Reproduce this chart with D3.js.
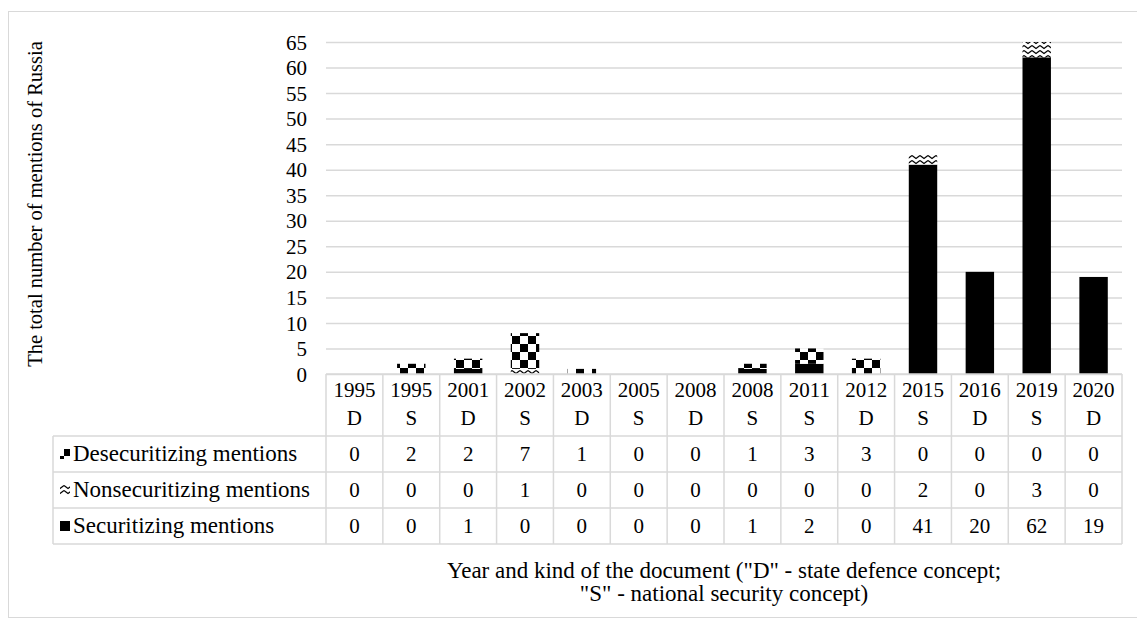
<!DOCTYPE html>
<html lang="en">
<head>
  <meta charset="utf-8"/>
  <title>Mentions of Russia</title>
  <script src="https://d3js.org/d3.v7.min.js"></script>
  <style>
    body { margin: 0; background: #fff; }
    svg { display: block; }
    svg text { font-family: "Liberation Serif", "DejaVu Serif", serif; fill: #000; }
  </style>
</head>
<body>
<svg id="chart" width="1137" height="625"></svg>
<script>
  // data
  const years = ["1995", "1995", "2001", "2002", "2003", "2005", "2008", "2008", "2011", "2012", "2015", "2016", "2019", "2020"];
  const kinds = ["D", "S", "D", "S", "D", "S", "D", "S", "S", "D", "S", "D", "S", "D"];
  const desecuritizing  = [0, 2, 2, 7, 1, 0, 0, 1, 3, 3, 0, 0, 0, 0];
  const nonsecuritizing = [0, 0, 0, 1, 0, 0, 0, 0, 0, 0, 2, 0, 3, 0];
  const securitizing    = [0, 0, 1, 0, 0, 0, 0, 1, 2, 0, 41, 20, 62, 19];
  const yTicks = d3.range(0, 66, 5);

  const seriesNames = ["Desecuritizing mentions", "Nonsecuritizing mentions", "Securitizing mentions"];
  const seriesValues = [desecuritizing, nonsecuritizing, securitizing];
  const seriesFill = ["url(#pDes)", "url(#pNon)", "#000"];

  const svg = d3.select("#chart");
  const grid = "#d9d9d9";
  const numSize = 21;   // digits
  const txtSize = 23;   // words

  const left = 326, right = 1122, baseY = 374, topY = 42;
  const tableLeft = 53, headerBottom = 436, rowH = 36;

  // patterns
  const defs = svg.append("defs");
  const pDes = defs.append("pattern").attr("id", "pDes")
    .attr("patternUnits", "userSpaceOnUse").attr("width", 16).attr("height", 16);
  pDes.append("rect").attr("width", 16).attr("height", 16).attr("fill", "#fff");
  pDes.append("rect").attr("x", 0).attr("y", 0).attr("width", 8).attr("height", 8).attr("fill", "#000");
  pDes.append("rect").attr("x", 8).attr("y", 8).attr("width", 8).attr("height", 8).attr("fill", "#000");

  const pNon = defs.append("pattern").attr("id", "pNon")
    .attr("patternUnits", "userSpaceOnUse").attr("width", 8).attr("height", 5);
  pNon.append("rect").attr("width", 8).attr("height", 5).attr("fill", "#fff");
  pNon.append("path").attr("d", "M0,0.5 L4,3.5 L8,0.5")
    .attr("fill", "none").attr("stroke", "#000").attr("stroke-width", 1.2);

  // frame
  svg.append("rect")
    .attr("x", 8.5).attr("y", 11.5).attr("width", 1140).attr("height", 606)
    .attr("fill", "none").attr("stroke", grid).attr("stroke-width", 1);

  const x = d3.scaleBand().domain(d3.range(years.length)).range([left, right]);
  const y = d3.scaleLinear().domain([0, 65]).range([baseY, topY]);

  // gridlines + y labels
  const yAxis = svg.append("g")
    .attr("transform", `translate(${left},0)`)
    .call(d3.axisLeft(y).tickValues(yTicks).tickSize(-(right - left)).tickPadding(19));
  yAxis.attr("font-family", null).attr("font-size", null);
  yAxis.select(".domain").remove();
  yAxis.selectAll(".tick line").attr("stroke", grid).attr("stroke-width", 1.5);
  yAxis.selectAll(".tick text").attr("font-size", numSize).attr("dy", "0.34em");

  svg.append("text")
    .attr("transform", `translate(42,${(baseY + topY) / 2 - 4}) rotate(-90)`)
    .attr("text-anchor", "middle")
    .attr("font-size", 20.5)
    .text("The total number of mentions of Russia");

  // stacked bars (securitizing at the bottom)
  const rows = years.map((yr, i) => ({
    i: i, sec: securitizing[i], non: nonsecuritizing[i], des: desecuritizing[i]
  }));
  const stack = d3.stack().keys(["sec", "non", "des"])(rows);
  const fills = { sec: "#000", non: "url(#pNon)", des: "url(#pDes)" };
  const barW = x.bandwidth() * 0.5;

  svg.append("g").selectAll("g")
    .data(stack)
    .join("g")
    .attr("fill", d => fills[d.key])
    .selectAll("rect")
    .data(d => d)
    .join("rect")
    .attr("x", d => x(d.data.i) + (x.bandwidth() - barW) / 2)
    .attr("y", d => y(d[1]))
    .attr("width", barW)
    .attr("height", d => y(d[0]) - y(d[1]));

  // data table
  const tableBottom = headerBottom + rowH * 3;
  const t = svg.append("g").attr("stroke", grid).attr("stroke-width", 1.5).attr("fill", "none");
  t.append("line").attr("x1", left).attr("x2", right).attr("y1", baseY).attr("y2", baseY);
  [0, 1, 2, 3].forEach(k => {
    t.append("line").attr("x1", tableLeft).attr("x2", right)
      .attr("y1", headerBottom + k * rowH).attr("y2", headerBottom + k * rowH);
  });
  t.append("line").attr("x1", tableLeft).attr("x2", tableLeft).attr("y1", headerBottom).attr("y2", tableBottom);
  d3.range(years.length + 1).forEach(k => {
    const xx = k < years.length ? x(k) : right;
    t.append("line").attr("x1", xx).attr("x2", xx).attr("y1", baseY).attr("y2", tableBottom);
  });

  const cx = i => x(i) + x.bandwidth() / 2;
  const hdr = svg.append("g").attr("font-size", numSize).attr("text-anchor", "middle");
  hdr.selectAll("text.yr").data(years).join("text").attr("class", "yr")
    .attr("x", (d, i) => cx(i)).attr("y", 397).text(d => d);
  hdr.selectAll("text.kd").data(kinds).join("text").attr("class", "kd")
    .attr("x", (d, i) => cx(i)).attr("y", 425).text(d => d);

  seriesNames.forEach((name, r) => {
    const rowY = headerBottom + r * rowH;
    const mid = rowY + rowH / 2;
    svg.append("rect").attr("x", 60).attr("y", mid - 5).attr("width", 10).attr("height", 10)
      .attr("fill", seriesFill[r]);
    svg.append("text").attr("x", 73).attr("y", mid + 7).attr("font-size", txtSize).text(name);
    svg.append("g").selectAll("text").data(seriesValues[r]).join("text")
      .attr("x", (d, i) => cx(i)).attr("y", mid + 7)
      .attr("text-anchor", "middle").attr("font-size", numSize)
      .text(d => d);
  });

  // x axis title
  const xt = svg.append("text").attr("text-anchor", "middle").attr("font-size", txtSize);
  xt.append("tspan").attr("x", 724).attr("y", 578).text('Year and kind of the document ("D" - state defence concept;');
  xt.append("tspan").attr("x", 724).attr("y", 601).text('"S" - national security concept)');
</script>
</body>
</html>
